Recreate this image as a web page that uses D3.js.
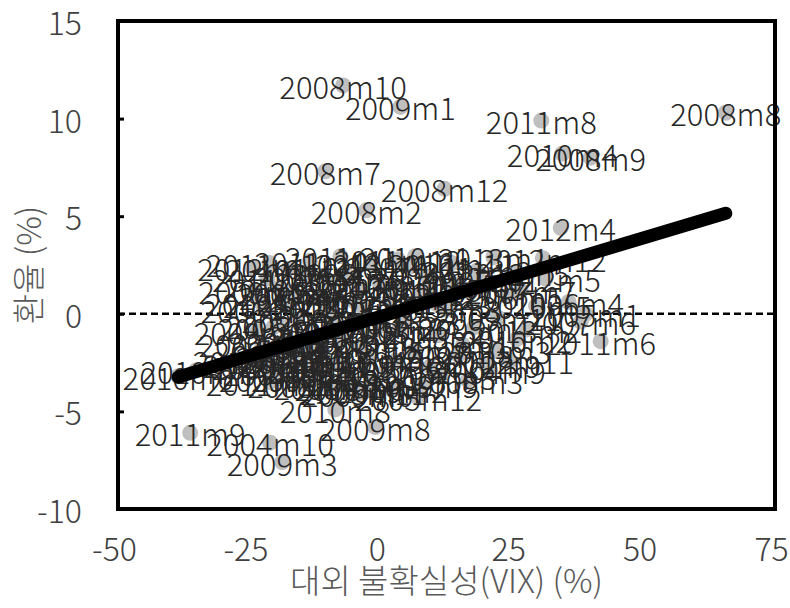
<!DOCTYPE html>
<html>
<head>
<meta charset="utf-8">
<script src="https://cdn.jsdelivr.net/npm/d3@7"></script>
<style>
body { margin: 0; background: #fff; }
text { font-family: "Noto Sans CJK KR", "Noto Sans", sans-serif; font-weight: 300; }
</style>
</head>
<body>
<div id="chart"></div>
<script>
// month labels (one per point)
var months = [
  "2003m1","2003m2","2003m3","2003m4","2003m5","2003m6","2003m7","2003m8","2003m9","2003m10","2003m11","2003m12",
  "2004m1","2004m2","2004m3","2004m4","2004m5","2004m6","2004m7","2004m8","2004m9","2004m10","2004m11","2004m12",
  "2005m1","2005m2","2005m3","2005m4","2005m5","2005m6","2005m7","2005m8","2005m9","2005m10","2005m11","2005m12",
  "2006m1","2006m2","2006m3","2006m4","2006m5","2006m6","2006m7","2006m8","2006m9","2006m10","2006m11","2006m12",
  "2007m1","2007m2","2007m3","2007m4","2007m5","2007m6","2007m7","2007m8","2007m9","2007m10","2007m11","2007m12",
  "2008m1","2008m2","2008m3","2008m4","2008m5","2008m6","2008m7","2008m8","2008m9","2008m10","2008m11","2008m12",
  "2009m1","2009m2","2009m3","2009m4","2009m5","2009m6","2009m7","2009m8","2009m9","2009m10","2009m11","2009m12",
  "2010m1","2010m2","2010m3","2010m4","2010m5","2010m6","2010m7","2010m8","2010m9","2010m10","2010m11","2010m12",
  "2011m1","2011m2","2011m3","2011m4","2011m5","2011m6","2011m7","2011m8","2011m9","2011m10","2011m11","2011m12",
  "2012m1","2012m2","2012m3","2012m4","2012m5","2012m6","2012m7","2012m8","2012m9","2012m10","2012m11","2012m12",
  "2013m1","2013m2","2013m3","2013m4","2013m5","2013m6"
];
// VIX change (%), x axis
var vix = [
  -3.5, 8.2, -12.4, -18.3, -6.8, -9.5, 4.1, -2.7, 11.6, -14.8, 2.3, -7.9,
  -11.2, 9.6, 5.3, -8.4, 14.7, -3.1, -16.2, 3.4, 21.5, -20.4, -13.5, -5.6,
  39.6, -1.4, 13.2, 18.4, -17.6, -10.3, -4.2, 6.9, -19.8, 16.3, -17.2, 7.8,
  -6.1, 1.1, -15.3, 36.4, 24.7, 10.1, -8.8, -20.6, -1.9, -11.9, 3.8, -21.5,
  -4.9, 19.6, 12.1, -13.1, -18.7, 38.7, 27.3, 15.4, -7.3, -21.9, 6.1, -0.8,
  -9.2, -2.1, 17.2, -14.2, 1.7, -5.2, -9.9, 66.3, 40.6, -6.5, -2.6, 12.8,
  4.4, 2.8, -18.1, -21.0, -23.5, -3.8, -19.6, -0.4, 8.7, -21.0, 22.9, -22.8,
  7.2, 26.5, 22.5, 35.2, 30.2, -37.9, -34.5, -8.0, -18.8, -23.0, 14.2, -16.9,
  -7.0, 18.9, -20.9, -12.8, 9.4, 42.5, -17.1, 31.2, -35.6, -20.5, -20.5, 3.9,
  -23.7, -22.2, -10.7, 34.9, 32.0, -15.8, 17.7, -4.5, 20.6, 0.5, 25.3, 31.5,
  22.1, 28.4, 11.3, -1.2, 26.0, -15.4
];
// exchange rate change (%), y axis
var fx = [
  1.2, 0.9, -1.8, -0.6, -1.3, 0.4, -0.8, 0.3, -1.1, -2.2, 0.7, -0.9,
  0.8, 1.9, -0.4, -0.2, 1.5, -1.7, 1.1, -2.4, -2.9, -6.6, -2.6, -3.1,
  0.0, -1.2, 0.2, -0.7, -1.4, -2.9, 0.6, -1.9, -0.7, -1.6, 0.5, -4.3,
  2.1, -0.6, -0.3, 0.6, 0.9, -2.7, 1.6, -1.9, -2.3, -3.3, 1.4, 0.2,
  -0.5, 1.7, -3.2, 1.9, -3.0, -0.4, 1.2, -2.1, -2.6, -1.5, 2.4, -3.5,
  -3.7, 5.3, -3.4, -3.6, -2.9, -3.8, 7.3, 10.3, 8.0, 11.7, -4.0, 6.4,
  10.6, -3.9, -7.6, -2.7, 1.2, -4.1, -3.3, -5.8, -3.6, -2.6, -0.2, -0.9,
  2.95, -1.3, -1.9, 8.2, 0.4, -3.2, -2.9, -4.9, 1.3, -2.4, 2.6, 2.3,
  2.95, 2.2, 1.8, 2.7, 1.3, -1.4, -2.1, 9.9, -6.1, 2.6, -3.5, 2.8,
  2.35, 0.6, -1.5, 4.4, 1.8, 0.9, 1.1, 1.8, -2.6, 1.5, -2.4, 2.85,
  2.9, -0.8, 0.5, 2.6, 2.1, -2.4
];
var xTicks = [-50, -25, 0, 25, 50, 75];
var yTicks = [-10, -5, 0, 5, 10, 15];
// linear trend
var fitSlope = 0.0805, fitIntercept = -0.19;

var width = 790, height = 608;
var frame = { left: 118, right: 775, top: 21, bottom: 509 };

var svg = d3.select("#chart")
    .append("svg")
    .attr("width", width)
    .attr("height", height);

var x = d3.scaleLinear().domain([-50, 75]).range([114.5, 771.5]);
var y = d3.scaleLinear().domain([-10, 15]).range([frame.bottom, frame.top]);

var data = months.map(function (m, i) { return { label: m, x: vix[i], y: fx[i] }; });

// zero line
svg.append("line")
    .attr("x1", frame.left).attr("x2", frame.right)
    .attr("y1", y(0)).attr("y2", y(0))
    .attr("stroke", "#000")
    .attr("stroke-width", 2.5)
    .attr("stroke-dasharray", "7,4");

// y axis ticks (inside) + labels
var yAxis = svg.append("g")
    .attr("transform", "translate(" + frame.left + ",0)")
    .call(d3.axisRight(y).tickValues(yTicks).tickSize(6).tickFormat(""));
yAxis.select(".domain").remove();
yAxis.selectAll("line").attr("stroke", "#000").attr("stroke-width", 3);

svg.append("g").selectAll("text")
    .data(yTicks)
    .enter().append("text")
    .attr("x", 82)
    .attr("y", function (d) { return y(d); })
    .attr("text-anchor", "end")
    .attr("dominant-baseline", "central")
    .attr("font-size", 32)
    .attr("fill", "#404040")
    .text(function (d) { return d; });

// x labels
svg.append("g").selectAll("text")
    .data(xTicks)
    .enter().append("text")
    .attr("x", function (d) { return x(d); })
    .attr("y", 547)
    .attr("text-anchor", "middle")
    .attr("dominant-baseline", "central")
    .attr("font-size", 32)
    .attr("fill", "#404040")
    .text(function (d) { return d; });

// points
svg.append("g").selectAll("circle")
    .data(data)
    .enter().append("circle")
    .attr("cx", function (d) { return x(d.x); })
    .attr("cy", function (d) { return y(d.y); })
    .attr("r", 8)
    .attr("fill", "#bfbfbf");

// point labels
svg.append("g").selectAll("text")
    .data(data)
    .enter().append("text")
    .attr("x", function (d) { return x(d.x); })
    .attr("y", function (d) { return y(d.y); })
    .attr("text-anchor", "middle")
    .attr("dominant-baseline", "central")
    .attr("font-size", 31)
    .attr("fill", "#262626")
    .text(function (d) { return d.label; });

// trend line
var xr = d3.extent(vix);
svg.append("path")
    .datum(xr.map(function (v) { return { x: v, y: fitIntercept + fitSlope * v }; }))
    .attr("fill", "none")
    .attr("stroke", "#000")
    .attr("stroke-width", 13)
    .attr("stroke-linecap", "round")
    .attr("d", d3.line()
        .x(function (d) { return x(d.x); })
        .y(function (d) { return y(d.y); }));

// plot frame
svg.append("rect")
    .attr("x", frame.left).attr("y", frame.top)
    .attr("width", frame.right - frame.left)
    .attr("height", frame.bottom - frame.top)
    .attr("fill", "none")
    .attr("stroke", "#000")
    .attr("stroke-width", 4);

// axis titles
svg.append("text")
    .attr("x", (frame.left + frame.right) / 2)
    .attr("y", 579)
    .attr("text-anchor", "middle")
    .attr("dominant-baseline", "central")
    .attr("font-size", 33)
    .attr("fill", "#595959")
    .text("대외 불확실성(VIX) (%)");

svg.append("text")
    .attr("transform", "translate(27," + ((frame.top + frame.bottom) / 2) + ") rotate(-90)")
    .attr("text-anchor", "middle")
    .attr("dominant-baseline", "central")
    .attr("font-size", 33)
    .attr("fill", "#595959")
    .text("환율 (%)");
</script>
</body>
</html>
